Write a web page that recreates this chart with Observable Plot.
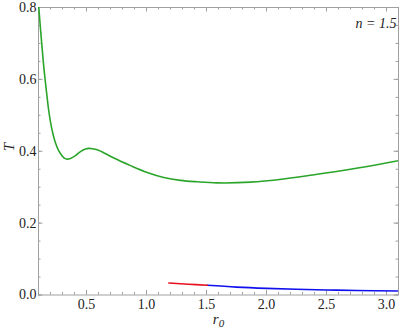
<!DOCTYPE html>
<html><head><meta charset="utf-8">
<script src="https://cdn.jsdelivr.net/npm/d3@7"></script>
<script src="https://cdn.jsdelivr.net/npm/@observablehq/plot@0.6"></script>
<style>body{margin:0;background:#fff}#chart svg{display:block}</style>
</head><body><div id="chart"></div>
<script>
// Data
const greenR = [0.1025,0.1167,0.1308,0.1442,0.1583,0.1725,0.1858,0.2,0.2208,0.2417,0.2692,0.2975,0.3167,0.3392,0.3667,0.4083,0.45,0.4917,0.5192,0.55,0.5892,0.66,0.728,0.867,1.006,1.144,1.283,1.422,1.589,1.867,2.142,2.422,2.7,2.975,3.1];
const greenT = [0.800,0.740,0.684,0.634,0.590,0.548,0.512,0.481,0.448,0.423,0.401,0.387,0.380,0.378,0.380,0.388,0.399,0.406,0.408,0.407,0.404,0.393,0.381,0.360,0.341,0.327,0.319,0.315,0.312,0.314,0.323,0.336,0.350,0.366,0.374];
const redR = [1.186,1.35,1.506];
const redT = [0.0335,0.030,0.027];
const blueR = [1.506,1.75,2.0,2.25,2.5,2.75,3.1];
const blueT = [0.027,0.022,0.0185,0.016,0.014,0.0125,0.011];
const xMajor = [0.5,1.0,1.5,2.0,2.5,3.0];
const yMajor = [0.0,0.2,0.4,0.6,0.8];
const xMinor = d3.range(1,32).map(i=>i/10);
const yMinor = d3.range(0,17).map(i=>i*0.05);
const xDomain = [0.1,3.1], yDomain = [0,0.8];

const W=399,H=330,mL=38,mR=1,mT=7,mB=35.5;
const kx=(xDomain[1]-xDomain[0])/(W-mL-mR);  // units per px
const ky=(yDomain[1]-yDomain[0])/(H-mT-mB);
const MAJ=4.5, MIN=2.5, tc="#a0a0a0";
const font='"Liberation Serif","DejaVu Serif","Times New Roman",Times,serif';

const ticksX=(vals,len)=>[
  Plot.ruleX(vals,{x:d=>d,y1:yDomain[0],y2:yDomain[0]+len*ky,stroke:tc,strokeWidth:1}),
  Plot.ruleX(vals,{x:d=>d,y1:yDomain[1],y2:yDomain[1]-len*ky,stroke:tc,strokeWidth:1})
];
const ticksY=(vals,len)=>[
  Plot.ruleY(vals,{y:d=>d,x1:xDomain[0],x2:xDomain[0]+len*kx,stroke:tc,strokeWidth:1}),
  Plot.ruleY(vals,{y:d=>d,x1:xDomain[1],x2:xDomain[1]-len*kx,stroke:tc,strokeWidth:1})
];

const green = greenR.map((r,i)=>({r,T:greenT[i]}));
const red = redR.map((r,i)=>({r,T:redT[i]}));
const blue = blueR.map((r,i)=>({r,T:blueT[i]}));

const plot = Plot.plot({
  width:W,height:H,marginLeft:mL,marginRight:mR,marginTop:mT,marginBottom:mB,
  style:{fontFamily:font,background:"#fff"},
  x:{domain:xDomain},
  y:{domain:yDomain},
  marks:[
    ...ticksX(xMinor,MIN),...ticksX(xMajor,MAJ),
    ...ticksY(yMinor,MIN),...ticksY(yMajor,MAJ),
    Plot.frame({stroke:tc,strokeWidth:1}),
    Plot.axisX(xMajor,{tickSize:0,tickPadding:4,fontSize:14,fill:"#222",tickFormat:d3.format(".1f"),label:null}),
    Plot.axisY(yMajor,{tickSize:0,tickPadding:2,fontSize:14,fill:"#222",tickFormat:d3.format(".1f"),label:null}),
    Plot.line(green,{x:"r",y:"T",stroke:"#2aa52a",strokeWidth:1.6,curve:"catmull-rom",clip:true}),
    Plot.line(blue,{x:"r",y:"T",stroke:"#1010ee",strokeWidth:1.6,curve:"catmull-rom",clip:true}),
    Plot.line(red,{x:"r",y:"T",stroke:"#e8101e",strokeWidth:1.6,curve:"catmull-rom",clip:true}),
    Plot.text(["T"],{frameAnchor:"left",dx:-29,rotate:-90,fontSize:15,fontStyle:"italic",fill:"#222"}),
    Plot.text(["r0"],{frameAnchor:"bottom",dy:29,fontSize:15,fontStyle:"italic",fill:"#222"}),
    Plot.text(["n = 1.5"],{frameAnchor:"top-right",dx:-2,dy:11,textAnchor:"end",fontSize:14,fontStyle:"italic",fill:"#222"})
  ]
});
document.getElementById("chart").appendChild(plot);
// subscript for r0
d3.select(plot).selectAll("text").filter(function(){return this.textContent==="r0";}).each(function(){
  const t=d3.select(this); t.text(null);
  t.append("tspan").text("r");
  t.append("tspan").attr("font-size",11).attr("dy","0.3em").text("0");
});
// force serif font on all texts
plot.querySelectorAll("text, g").forEach(el=>{
  el.removeAttribute("font-family");
  el.style.setProperty("font-family", font, "important");
});
plot.style.setProperty("font-family", font, "important");
</script></body></html>
